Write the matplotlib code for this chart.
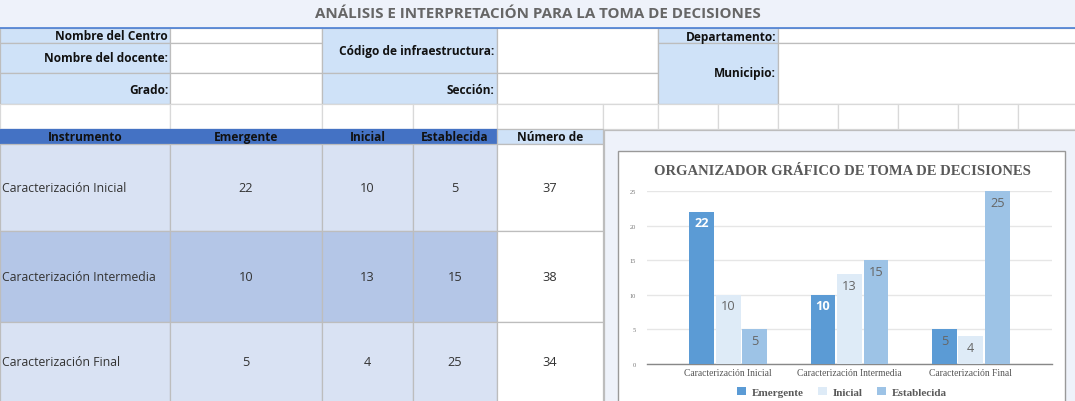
import matplotlib
matplotlib.use("Agg")
import matplotlib.pyplot as plt
import numpy as np
from matplotlib.patches import Rectangle, Patch

# data
instrumentos = ["Caracterización Inicial", "Caracterización Intermedia", "Caracterización Final"]
emergente = [22, 10, 5]
inicial = [10, 13, 4]
establecida = [5, 15, 25]
totales = [37, 38, 34]
series_names = ["Emergente", "Inicial", "Establecida"]
header_labels = ["Instrumento", "Emergente", "Inicial", "Establecida", "Número de"]
y_ticks = [0, 5, 10, 15, 20, 25]

TITLE = "ANÁLISIS E INTERPRETACIÓN PARA LA TOMA DE DECISIONES"
CHART_TITLE = "ORGANIZADOR GRÁFICO DE TOMA DE DECISIONES"

LB = "#cfe2f8"      # label cells
PAGE = "#eef2fa"
DARK = "#4472c4"
ROW_A = "#d9e2f3"
ROW_B = "#b4c6e7"
GRID = "#bdbdbd"
SANS = ["Open Sans", "DejaVu Sans"]
SERIF = ["Liberation Serif", "DejaVu Serif"]

W, H = 1075, 402
fig = plt.figure(figsize=(W / 100, H / 100), dpi=100)
fig.patch.set_facecolor(PAGE)
bg = fig.add_axes([0, 0, 1, 1])
bg.set_xlim(0, W)
bg.set_ylim(H, 0)
bg.axis("off")


def cell(x0, y0, x1, y1, fc, ec=GRID, lw=0.9):
    bg.add_patch(Rectangle((x0, y0), x1 - x0, y1 - y0, facecolor=fc, edgecolor=ec, linewidth=lw))


# title band
bg.add_patch(Rectangle((0, 0), W, 29, facecolor=PAGE, edgecolor="none"))
bg.text(538, 14.5, TITLE, ha="center", va="center", fontsize=10.9, fontweight="bold",
        color="#666666", family=SANS)

# form area
cell(0, 29, 170, 44, LB); cell(170, 29, 322, 44, "white")
cell(0, 44, 170, 74, LB); cell(170, 44, 322, 74, "white")
cell(0, 74, 170, 105, LB); cell(170, 74, 322, 105, "white")
cell(322, 29, 497, 74, LB); cell(322, 74, 497, 105, LB)
cell(497, 29, 658, 74, "white"); cell(497, 74, 658, 105, "white")
cell(658, 29, 778, 44, LB); cell(658, 44, 778, 105, LB)
cell(778, 29, 1080, 44, "white"); cell(778, 44, 1080, 105, "white")

form_labels = [("Nombre del Centro", 168, 37), ("Nombre del docente:", 168, 59),
               ("Grado:", 168, 90), ("Código de infraestructura:", 494, 51),
               ("Sección:", 494, 90), ("Departamento:", 776, 37), ("Municipio:", 776, 74)]
for txt, x, y in form_labels:
    bg.text(x, y, txt, ha="right", va="center", fontsize=8.6, fontweight="bold",
            color="#111111", family=SANS)

# empty row
cols_empty = [0, 170, 322, 413, 497, 603, 658, 718, 778, 838, 898, 958, 1018, 1080]
for a, b in zip(cols_empty[:-1], cols_empty[1:]):
    cell(a, 105, b, 130, "white", ec="#d9d9d9")

bg.plot([0, W], [29, 29], color="#4a7fd4", lw=1.2)

# table
cols = [0, 170, 322, 413, 497, 603]
rows = [145, 232, 323, 410]
for i, (a, b) in enumerate(zip(cols[:-1], cols[1:])):
    cell(a, 130, b, 145, DARK if i < 4 else LB, ec=GRID if i == 4 else DARK)
    cx = (a + b) / 2
    bg.text(cx, 137.5, header_labels[i], ha="center", va="center", fontsize=8.6,
            fontweight="bold", color="#111111", family=SANS)

for r in range(3):
    y0, y1 = rows[r], rows[r + 1]
    fc = ROW_B if r == 1 else ROW_A
    for i, (a, b) in enumerate(zip(cols[:-1], cols[1:])):
        cell(a, y0, b, y1, fc if i < 4 else "white")
    yc = (y0 + min(y1, 403)) / 2
    vals = [emergente[r], inicial[r], establecida[r], totales[r]]
    bg.text(2, yc, instrumentos[r], ha="left", va="center", fontsize=8.8,
            color="#333333", family=SANS)
    for i, v in enumerate(vals):
        cx = (cols[i + 1] + cols[i + 2]) / 2
        bg.text(cx, yc, str(v), ha="center", va="center", fontsize=9.2,
                color="#333333", family=SANS)

# chart area
bg.add_patch(Rectangle((603.5, 130.5), 480, 280, facecolor=PAGE, edgecolor=GRID, linewidth=0.9))
bg.add_patch(Rectangle((618, 152), 447, 260, facecolor="white", edgecolor="#999999", linewidth=1.0))
bg.text(842, 172, CHART_TITLE, ha="center", va="center", fontsize=10.5, fontweight="bold",
        color="#595959", family=SERIF)

ax = fig.add_axes([647 / W, 1 - 365 / H, 405 / W, 173 / H])
ax.patch.set_alpha(0)
colors = ["#5b9bd5", "#deebf7", "#9dc3e6"]
data = [emergente, inicial, establecida]
x = np.arange(len(instrumentos))
bw, step = 0.205, 0.218
for k, (vals, c, name) in enumerate(zip(data, colors, series_names)):
    bars = ax.bar(x + (k - 1) * step, vals, width=bw, color=c, label=name, zorder=3)
    for j, b in enumerate(bars):
        v = vals[j]
        white = (k == 0 and v >= 10)
        ax.annotate(str(v), (b.get_x() + b.get_width() / 2, v), xytext=(0, -8),
                    textcoords="offset points", ha="center", va="center",
                    fontsize=9.2,
                    fontweight="bold" if white else "normal",
                    color="white" if white else "#666666", family=SANS, zorder=4)

ax.set_xlim(-0.67, 2.67)
ax.set_ylim(0, 25)
ax.set_yticks(y_ticks)
ax.yaxis.grid(True, color="#e6e6e6", lw=1.0, zorder=0)
for s in ["top", "right", "left"]:
    ax.spines[s].set_visible(False)
ax.spines["bottom"].set_color("#888888")
ax.spines["bottom"].set_linewidth(1.0)
ax.set_xticks(x)
ax.set_xticklabels(instrumentos, fontsize=6.9, color="#555555", family=SERIF)
ax.tick_params(axis="x", length=0, pad=3)
ax.tick_params(axis="y", length=0, pad=8, labelsize=4.6, labelcolor="#777777")
for t in ax.get_yticklabels():
    t.set_family(SERIF)

handles = [Patch(facecolor=c, edgecolor="none", label=n) for c, n in zip(colors, series_names)]
fig.legend(handles=handles, loc="center", bbox_to_anchor=(842 / W, 1 - 393 / H), ncol=3,
           frameon=False, handlelength=0.8, handleheight=0.8, handletextpad=0.5,
           columnspacing=1.3, prop={"family": SERIF, "weight": "bold", "size": 8.0},
           labelcolor="#595959")

fig.savefig("out.png", dpi=100, facecolor=fig.get_facecolor())
